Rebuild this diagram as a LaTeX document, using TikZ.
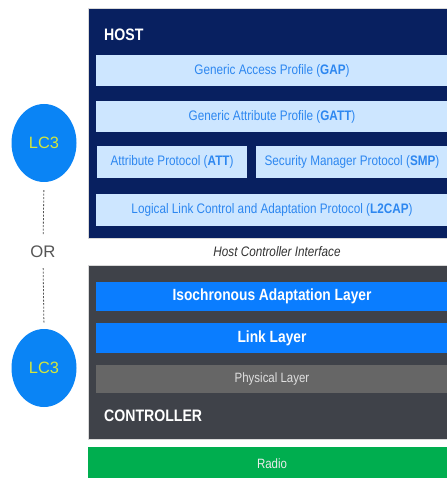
\documentclass[tikz,border=0pt]{standalone}
\usepackage{fontspec}
\setmainfont{Liberation Sans}[FakeStretch=0.85]
\newfontfamily\plainfont{Liberation Sans}
\usetikzlibrary{shapes.geometric}
\definecolor{navy}{RGB}{8,32,96}
\definecolor{lightbox}{RGB}{205,230,255}
\definecolor{boxtext}{RGB}{45,135,240}
\definecolor{ctrlgray}{RGB}{63,66,73}
\definecolor{brightblue}{RGB}{10,125,255}
\definecolor{physgray}{RGB}{102,102,102}
\definecolor{radiogreen}{RGB}{0,174,79}
\definecolor{lcblue}{RGB}{10,132,245}
\definecolor{lctext}{RGB}{212,230,60}
\definecolor{ortext}{RGB}{85,85,85}
\tikzset{
  x=1pt, y=-1pt,
  layer/.style={rectangle, inner sep=0pt, anchor=center},
  hostlayer/.style={layer, fill=lightbox, text=boxtext, font=\fontsize{13.8}{16}\selectfont},
  bluelayer/.style={layer, fill=brightblue, text=white, font=\fontsize{16.2}{18}\selectfont\bfseries},
  biglabel/.style={anchor=west, inner sep=0pt, text=white, font=\fontsize{16.6}{18}\selectfont\bfseries},
  lcthree/.style={ellipse, fill=lcblue, text=lctext, minimum width=65pt, minimum height=78pt, inner sep=0pt, font=\plainfont\fontsize{16.4}{18}\selectfont},
  dashlink/.style={draw=ortext, line width=0.8pt, dash pattern=on 2pt off 1.5pt}
}
\begin{document}
\begin{tikzpicture}
\useasboundingbox (0,0) rectangle (446,478);
\fill[white] (0,0) rectangle (446,478);
% host
\node[layer, fill=navy, draw=black!15, line width=0.6pt, minimum width=368pt, minimum height=230pt] (host) at (272,123) {};
\node[biglabel] (hostlbl) at (104,35) {HOST};
\node[hostlayer, minimum width=352pt, minimum height=31pt] (gap) at (272,70.5) {Generic Access Profile (\textbf{GAP})};
\node[hostlayer, minimum width=352pt, minimum height=31pt] (gatt) at (272,116.5) {Generic Attribute Profile (\textbf{GATT})};
\node[hostlayer, minimum width=150pt, minimum height=32pt] (att) at (172,162) {Attribute Protocol (\textbf{ATT})};
\node[hostlayer, minimum width=192pt, minimum height=32pt] (smp) at (352,162) {Security Manager Protocol (\textbf{SMP})};
\node[hostlayer, minimum width=352pt, minimum height=32pt] (l2cap) at (272,210) {Logical Link Control and Adaptation Protocol (\textbf{L2CAP})};
% HCI
\node[inner sep=0pt, text=black!80, font=\fontsize{13.8}{16}\selectfont\itshape] (hci) at (277,252) {Host Controller Interface};
% controller
\node[layer, fill=ctrlgray, draw=black!15, line width=0.6pt, minimum width=368pt, minimum height=174pt] (ctrl) at (272,352) {};
\node[bluelayer, minimum width=352pt, minimum height=29pt] (isoal) at (272,296.5) {Isochronous Adaptation Layer};
\node[bluelayer, minimum width=352pt, minimum height=30pt] (ll) at (272,338) {Link Layer};
\node[layer, fill=physgray, text=black!12, minimum width=352pt, minimum height=28pt, font=\fontsize{13.5}{16}\selectfont] (phy) at (272,379) {Physical Layer};
\node[biglabel] (ctrllbl) at (104,416) {CONTROLLER};
% radio
\node[layer, fill=radiogreen, text=white!92!black, minimum width=368pt, minimum height=33pt, font=\fontsize{13.5}{16}\selectfont] (radio) at (272,463.5) {Radio};
% LC3
\node[lcthree] (lcA) at (44,143) {LC3};
\node[lcthree] (lcB) at (44,368) {LC3};
\node[inner sep=0pt, text=ortext, font=\plainfont\fontsize{16.7}{18}\selectfont] (or) at (43,252) {OR};
\draw[dashlink, shorten <=8pt, shorten >=11pt] (lcA.south) -- (or.north);
\draw[dashlink, shorten <=10pt, shorten >=5.5pt] (or.south) -- (lcB.north);
\end{tikzpicture}
\end{document}
